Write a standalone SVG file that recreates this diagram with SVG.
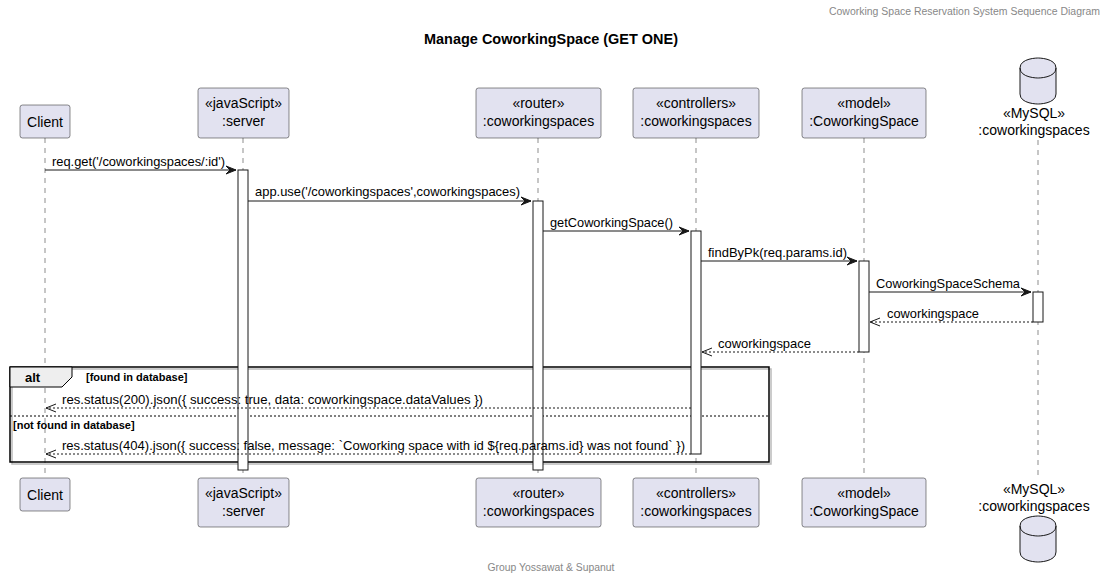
<svg xmlns="http://www.w3.org/2000/svg" width="1108" height="580" viewBox="0 0 1108 580">
<style>
.bg{fill:#FFFFFF}
.pbox{fill:#E2E2F0;stroke:#181818;stroke-width:0.5}
.life{stroke:#181818;stroke-width:0.5;stroke-dasharray:5,5;fill:none}
.act{fill:#FFFFFF;stroke:#181818;stroke-width:1}
.msg{stroke:#181818;stroke-width:1;fill:none}
.ret{stroke:#181818;stroke-width:1;stroke-dasharray:2,2;fill:none}
.head{fill:#181818;stroke:#181818;stroke-width:1}
.open{fill:none;stroke:#181818;stroke-width:1}
.pt{font-family:"Liberation Sans",Arial,sans-serif;font-size:14px;fill:#000;text-anchor:middle}
.mt{font-family:"Liberation Sans",Arial,sans-serif;font-size:13px;fill:#000}
.bt{font-family:"Liberation Sans",Arial,sans-serif;font-size:11px;font-weight:bold;fill:#000}
.gray{font-family:"Liberation Sans",Arial,sans-serif;font-size:10px;fill:#888888}
</style>
<rect class="bg" x="0" y="0" width="1108" height="580"/>
<text class="gray" x="1100" y="15" text-anchor="end" textLength="271" lengthAdjust="spacingAndGlyphs">Coworking Space Reservation System Sequence Diagram</text>
<text x="551" y="44" text-anchor="middle" style="font-family:'Liberation Sans',Arial,sans-serif;font-size:14px;font-weight:bold" textLength="254" lengthAdjust="spacingAndGlyphs">Manage CoworkingSpace (GET ONE)</text>

<g id="lifelines">
<line class="life" x1="45" y1="138" x2="45" y2="478"/>
<line class="life" x1="243" y1="138" x2="243" y2="478"/>
<line class="life" x1="538" y1="138" x2="538" y2="478"/>
<line class="life" x1="696" y1="138" x2="696" y2="478"/>
<line class="life" x1="864" y1="138" x2="864" y2="478"/>
<line class="life" x1="1038" y1="140" x2="1038" y2="478"/>
</g>

<g id="frame-alt">
<rect x="12" y="369" width="759" height="95" fill="none" stroke="#BBBBBB" stroke-width="1.5"/>
<rect x="10" y="367" width="759" height="95" fill="none" stroke="#000000" stroke-width="1.5"/>
<polygon points="10,367 72,367 72,377 62,387 10,387" fill="#EEEEEE" stroke="#000000" stroke-width="1"/>
<text x="25" y="382" style="font-family:'Liberation Sans',Arial,sans-serif;font-size:13px;font-weight:bold">alt</text>
<text class="bt" x="86" y="381">[found in database]</text>
<line x1="10" y1="416" x2="769" y2="416" stroke="#000000" stroke-width="1" stroke-dasharray="2,2"/>
<text class="bt" x="13" y="429">[not found in database]</text>
</g>

<g id="activations">
<rect class="act" x="238" y="170" width="10" height="300"/>
<rect class="act" x="533" y="201" width="10" height="269"/>
<rect class="act" x="691" y="231" width="10" height="223"/>
<rect class="act" x="859" y="261" width="10" height="91"/>
<rect class="act" x="1033" y="292" width="10" height="30"/>
</g>

<g id="connectors">
<line class="msg" x1="45" y1="170" x2="236" y2="170"/>
<polygon class="head" points="226,166 236,170 226,174 230,170"/>
<text class="mt" x="52" y="166" textLength="173" lengthAdjust="spacingAndGlyphs">req.get('/coworkingspaces/:id')</text>

<line class="msg" x1="248" y1="201" x2="531" y2="201"/>
<polygon class="head" points="521,197 531,201 521,205 525,201"/>
<text class="mt" x="255" y="196" textLength="265" lengthAdjust="spacingAndGlyphs">app.use('/coworkingspaces',coworkingspaces)</text>

<line class="msg" x1="543" y1="231" x2="689" y2="231"/>
<polygon class="head" points="679,227 689,231 679,235 683,231"/>
<text class="mt" x="550" y="227" textLength="123" lengthAdjust="spacingAndGlyphs">getCoworkingSpace()</text>

<line class="msg" x1="701" y1="261" x2="857" y2="261"/>
<polygon class="head" points="847,257 857,261 847,265 851,261"/>
<text class="mt" x="708" y="257" textLength="139" lengthAdjust="spacingAndGlyphs">findByPk(req.params.id)</text>

<line class="msg" x1="869" y1="292" x2="1031" y2="292"/>
<polygon class="head" points="1021,288 1031,292 1021,296 1025,292"/>
<text class="mt" x="876" y="288" textLength="144" lengthAdjust="spacingAndGlyphs">CoworkingSpaceSchema</text>

<line class="ret" x1="1033" y1="322" x2="870" y2="322"/>
<polyline class="open" points="880,318 870,322 880,326"/>
<text class="mt" x="887" y="318" textLength="92" lengthAdjust="spacingAndGlyphs">coworkingspace</text>

<line class="ret" x1="859" y1="352" x2="702" y2="352"/>
<polyline class="open" points="712,348 702,352 712,356"/>
<text class="mt" x="718" y="348" textLength="93" lengthAdjust="spacingAndGlyphs">coworkingspace</text>

<line class="ret" x1="691" y1="408" x2="46" y2="408"/>
<polyline class="open" points="56,404 46,408 56,412"/>
<text class="mt" x="62" y="404" textLength="421" lengthAdjust="spacingAndGlyphs">res.status(200).json({ success: true, data: coworkingspace.dataValues })</text>

<line class="ret" x1="691" y1="454" x2="46" y2="454"/>
<polyline class="open" points="56,450 46,454 56,458"/>
<text class="mt" x="62" y="450" textLength="623" lengthAdjust="spacingAndGlyphs">res.status(404).json({ success: false, message: `Coworking space with id ${req.params.id} was not found` })</text>
</g>

<g id="p-client">
<rect class="pbox" x="20" y="105" width="50" height="33" rx="2.5"/>
<text class="pt" x="45" y="127">Client</text>
<rect class="pbox" x="20" y="478" width="50" height="33" rx="2.5"/>
<text class="pt" x="45" y="500">Client</text>
</g>

<g id="p-server">
<rect class="pbox" x="198" y="88" width="91" height="50" rx="2.5"/>
<text class="pt" x="243.5" y="108">«javaScript»</text>
<text class="pt" x="243.5" y="126">:server</text>
<rect class="pbox" x="198" y="478" width="91" height="49" rx="2.5"/>
<text class="pt" x="243.5" y="498">«javaScript»</text>
<text class="pt" x="243.5" y="516">:server</text>
</g>

<g id="p-router">
<rect class="pbox" x="476" y="88" width="125" height="50" rx="2.5"/>
<text class="pt" x="538.5" y="108">«router»</text>
<text class="pt" x="538.5" y="126">:coworkingspaces</text>
<rect class="pbox" x="476" y="478" width="125" height="49" rx="2.5"/>
<text class="pt" x="538.5" y="498">«router»</text>
<text class="pt" x="538.5" y="516">:coworkingspaces</text>
</g>

<g id="p-controllers">
<rect class="pbox" x="633" y="88" width="126" height="50" rx="2.5"/>
<text class="pt" x="696" y="108">«controllers»</text>
<text class="pt" x="696" y="126">:coworkingspaces</text>
<rect class="pbox" x="633" y="478" width="126" height="49" rx="2.5"/>
<text class="pt" x="696" y="498">«controllers»</text>
<text class="pt" x="696" y="516">:coworkingspaces</text>
</g>

<g id="p-model">
<rect class="pbox" x="802" y="88" width="124" height="50" rx="2.5"/>
<text class="pt" x="864" y="108">«model»</text>
<text class="pt" x="864" y="126">:CoworkingSpace</text>
<rect class="pbox" x="802" y="478" width="124" height="49" rx="2.5"/>
<text class="pt" x="864" y="498">«model»</text>
<text class="pt" x="864" y="516">:CoworkingSpace</text>
</g>

<g id="p-mysql">
<path d="M1020,68 C1020,58 1038,58 1038,58 C1038,58 1056,58 1056,68 L1056,94 C1056,104 1038,104 1038,104 C1038,104 1020,104 1020,94 Z" fill="#E2E2F0" stroke="#181818" stroke-width="1"/>
<path d="M1020,68 C1020,78 1038,78 1038,78 C1038,78 1056,78 1056,68" fill="none" stroke="#181818" stroke-width="1"/>
<text class="pt" x="1034" y="118">«MySQL»</text>
<text class="pt" x="1034" y="135">:coworkingspaces</text>
<text class="pt" x="1034" y="494">«MySQL»</text>
<text class="pt" x="1034" y="511">:coworkingspaces</text>
<path d="M1020,526 C1020,516 1038,516 1038,516 C1038,516 1056,516 1056,526 L1056,552 C1056,562 1038,562 1038,562 C1038,562 1020,562 1020,552 Z" fill="#E2E2F0" stroke="#181818" stroke-width="1"/>
<path d="M1020,526 C1020,536 1038,536 1038,536 C1038,536 1056,536 1056,526" fill="none" stroke="#181818" stroke-width="1"/>
</g>

<text class="gray" x="551" y="571" text-anchor="middle" textLength="127" lengthAdjust="spacingAndGlyphs">Group Yossawat &amp; Supanut</text>
</svg>
